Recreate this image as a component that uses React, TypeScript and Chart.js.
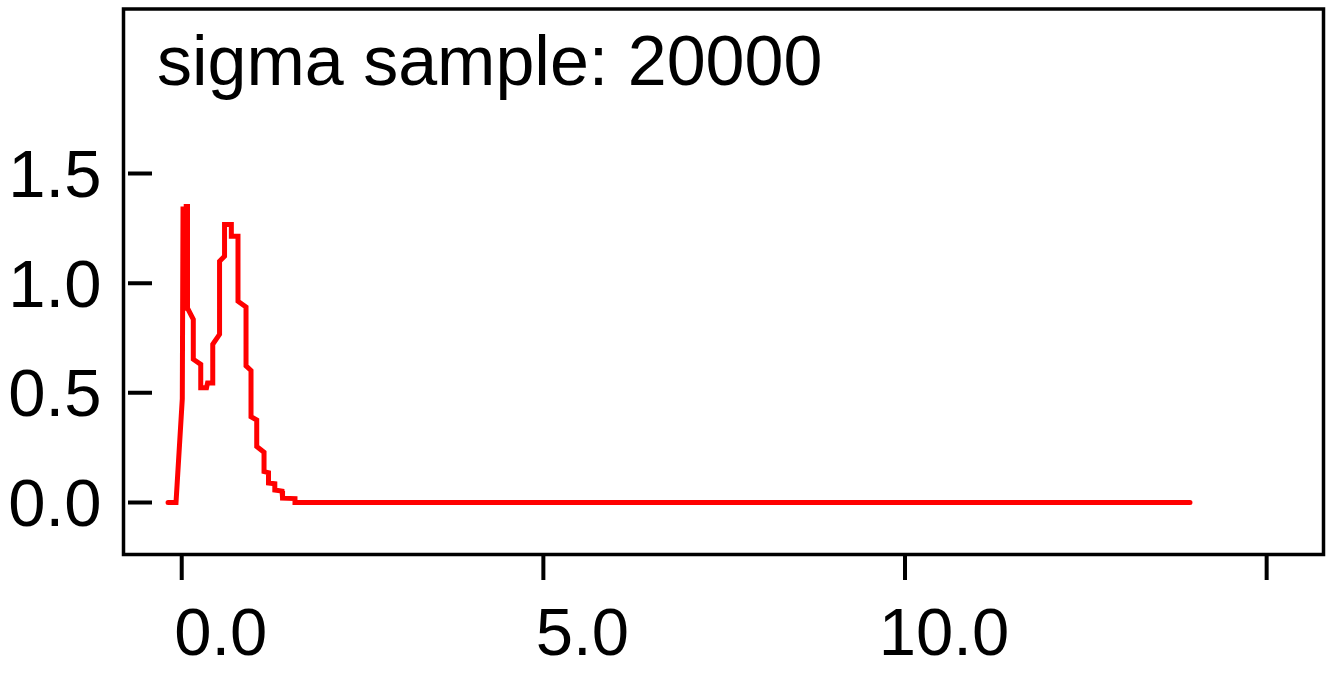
import React, { useEffect, useRef } from "react";
import { Chart, registerables } from "chart.js";

Chart.register(...registerables);

const TITLE = "sigma sample: 20000";
const X_VALUES = [
  -0.189, -0.079, 0.008, 0.018, 0.032, 0.04, 0.055, 0.062, 0.08, 0.08, 0.16, 0.16, 0.263, 0.263,
  0.343, 0.357, 0.429, 0.429, 0.523, 0.523, 0.592, 0.592, 0.686, 0.686, 0.778, 0.778,
  0.889, 0.889, 0.958, 0.958, 1.037, 1.037, 1.138, 1.138, 1.2, 1.2, 1.287, 1.287,
  1.387, 1.394, 1.566, 1.566, 13.94,
];
const Y_VALUES = [
  0, 0, 0.473, 1.35, 0.886, 1.35, 0.886, 1.35, 1.35, 0.886, 0.835, 0.653, 0.63, 0.523,
  0.523, 0.545, 0.545, 0.721, 0.767, 1.1, 1.123, 1.267, 1.267, 1.214, 1.214, 0.918,
  0.891, 0.623, 0.602, 0.391, 0.376, 0.255, 0.229, 0.141, 0.136, 0.089, 0.086, 0.057,
  0.052, 0.02, 0.018, 0, 0,
];
const X_TICKS = [0, 5, 10, 15];
const X_LABELED = [0, 5, 10];
const Y_TICKS = [0, 0.5, 1.0, 1.5];
const X_MIN = -0.805;
const X_MAX = 15.786;
const Y_MIN = -0.237;
const Y_MAX = 2.25;

const FONT_FAMILY = "'Liberation Sans', Arial, sans-serif";

const framePlugin = {
  id: "frame",
  afterDraw(chart: any) {
    const { ctx, chartArea } = chart;
    const xs = chart.scales.x;
    const ys = chart.scales.y;
    ctx.save();
    ctx.strokeStyle = "#000";
    ctx.lineWidth = 3.5;
    ctx.strokeRect(chartArea.left, chartArea.top, chartArea.right - chartArea.left, chartArea.bottom - chartArea.top);
    ctx.lineWidth = 4;
    ctx.beginPath();
    for (const v of Y_TICKS) {
      const y = ys.getPixelForValue(v);
      ctx.moveTo(chartArea.left + 4.5, y);
      ctx.lineTo(chartArea.left + 28.5, y);
    }
    for (const v of X_TICKS) {
      const x = xs.getPixelForValue(v);
      ctx.moveTo(x, chartArea.bottom + 1.5);
      ctx.lineTo(x, chartArea.bottom + 25.5);
    }
    ctx.stroke();
    ctx.fillStyle = "#000";
    ctx.font = `70px ${FONT_FAMILY}`;
    ctx.textAlign = "left";
    ctx.textBaseline = "alphabetic";
    ctx.fillText(TITLE, 157, 85);
    ctx.restore();
  },
};

export default function App() {
  const ref = useRef<HTMLCanvasElement | null>(null);
  useEffect(() => {
    if (!ref.current) return;
    const points = X_VALUES.map((x, i) => ({ x, y: Y_VALUES[i] }));
    const chart = new Chart(ref.current, {
      type: "scatter",
      data: {
        datasets: [
          {
            data: points,
            showLine: true,
            borderColor: "#ff0000",
            backgroundColor: "#ff0000",
            borderWidth: 5,
            pointRadius: 0,
            borderCapStyle: "round",
            fill: false,
          },
        ],
      },
      options: {
        responsive: false,
        animation: false,
        layout: { autoPadding: false, padding: { left: 0, right: 10.5, top: 9, bottom: 0 } },
        plugins: { legend: { display: false }, tooltip: { enabled: false }, title: { display: false } },
        scales: {
          x: {
            type: "linear",
            min: X_MIN,
            max: X_MAX,
            grid: { display: false, drawTicks: false },
            border: { display: false },
            afterBuildTicks: (scale: any) => {
              scale.ticks = X_TICKS.map((v) => ({ value: v }));
            },
            afterFit: (scale: any) => {
              scale.height = 118.5;
              scale.paddingLeft = 0;
              scale.paddingRight = 0;
            },
            ticks: {
              autoSkip: false,
              maxRotation: 0,
              minRotation: 0,
              padding: 42,
              labelOffset: 39,
              color: "#000",
              font: { size: 67, family: FONT_FAMILY },
              callback: (v: any) => (X_LABELED.includes(Number(v)) ? Number(v).toFixed(1) : ""),
            },
          },
          y: {
            type: "linear",
            min: Y_MIN,
            max: Y_MAX,
            grid: { display: false, drawTicks: false },
            border: { display: false },
            afterBuildTicks: (scale: any) => {
              scale.ticks = Y_TICKS.map((v) => ({ value: v }));
            },
            afterFit: (scale: any) => {
              scale.width = 123.5;
              scale.paddingTop = 0;
              scale.paddingBottom = 0;
            },
            ticks: {
              autoSkip: false,
              padding: 22,
              labelOffset: 5,
              color: "#000",
              font: { size: 67, family: FONT_FAMILY },
              callback: (v: any) => Number(v).toFixed(1),
            },
          },
        },
      },
      plugins: [framePlugin],
    });
    return () => chart.destroy();
  }, []);
  return (
    <div style={{ position: "fixed", left: 0, top: 0, width: 1334, height: 673, background: "#fff" }}>
      <canvas ref={ref} width={1334} height={673} style={{ display: "block" }} />
    </div>
  );
}
